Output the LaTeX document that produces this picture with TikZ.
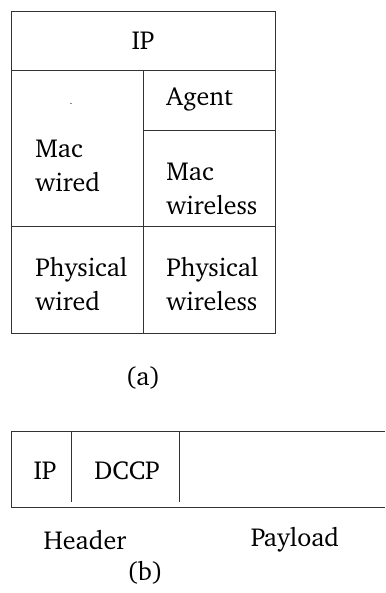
\documentclass[tikz,border=0pt]{standalone}
\usepackage[T1]{fontenc}
\usepackage{charter}
\usepackage{tikz}

\begin{document}
\begin{tikzpicture}[x=1pt, y=-1pt, line width=0.9pt, every node/.style={font=\fontsize{26}{34}\selectfont}]
\tikzset{cell/.style = {align=left, anchor=west, inner sep=0pt}}
\tikzset{label/.style = {anchor=center, inner sep=0pt}}
\useasboundingbox (0,0) rectangle (385,593);

% protocol stack
\begin{scope}[draw=black!80]
\draw (11,11) rectangle (275,333);
\draw (11,70) -- (275,70);
\draw (143,70) -- (143,333);
\draw (143,130) -- (275,130);
\draw (11,226) -- (275,226);
\end{scope}
% layers
\node[label] (ip) at (143,41) {IP};
\node[inner sep=0pt, font=\small] (dot) at (71,104) {.};
\node[cell] (macwired) at (35,166) {Mac\\wired};
\node[cell] (agent) at (166,99) {Agent};
\node[cell] (macwl) at (166,189) {Mac\\wireless};
\node[cell] (phywired) at (35,284) {Physical\\wired};
\node[cell] (phywl) at (166,284) {Physical\\wireless};
\node[label] (capa) at (143,378) {(a)};

% packet
\begin{scope}[draw=black!80]
\draw (385,431) -- (11,431) -- (11,507) -- (385,507);
\draw (71,431) -- (71,502);
\draw (179,431) -- (179,502);
\end{scope}
% fields
\node[label] (ipf) at (45,471) {IP};
\node[label] (dccp) at (127,471) {DCCP};
\node[label] (header) at (85,540) {Header};
\node[label] (payload) at (295,540) {Payload};
\node[label] (capb) at (145,573) {(b)};

\end{tikzpicture}
\end{document}
